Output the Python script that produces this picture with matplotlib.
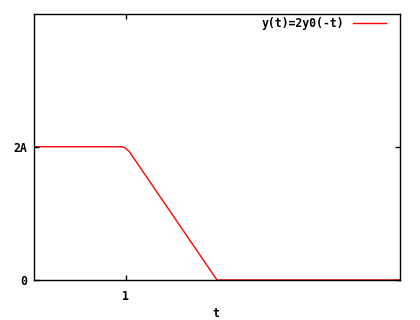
import matplotlib
matplotlib.use('Agg')
import matplotlib.pyplot as plt

# data (A = 1)
t = [0.0, 0.96, 1.0, 1.04, 2.0, 4.0]
y = [2.0, 2.0, 1.98, 1.93, 0.0, 0.0]
xticks = [1]
xticklabels = ['1']
yticks = [0, 2]
yticklabels = ['0', '2A']

plt.rcParams['font.family'] = 'DejaVu Sans Mono'
plt.rcParams['font.weight'] = 'bold'
plt.rcParams['axes.labelweight'] = 'bold'

fig = plt.figure(figsize=(4.2, 3.2), dpi=100)
ax = fig.add_axes([34/420, 1-280/320, 366/420, 266.5/320])
ax.plot(t, y, color='red', linewidth=1.0, label='y(t)=2y0(-t)', zorder=1)
ax.set_xlim(0, 4)
ax.set_ylim(0, 4)
ax.set_xticks(xticks)
ax.set_xticklabels(xticklabels)
ax.set_yticks(yticks)
ax.set_yticklabels(yticklabels)
ax.tick_params(direction='in', length=3.5, width=1, top=True, right=True,
               labelsize=8.3, pad=5)
ax.tick_params(axis='x', pad=7)
for s in ax.spines.values():
	s.set_linewidth(1)
	s.set_zorder(3)
ax.set_xlabel('t', fontsize=8.3)
ax.xaxis.set_label_coords(0.497, -0.124)
ax.xaxis.label.set_va('center')
ax.legend(loc='upper right', frameon=False, markerfirst=False, fontsize=8.3,
          handlelength=2.9, handletextpad=0.7, borderaxespad=0.3,
          bbox_to_anchor=(1 - 6/366, 1 + 5/266.5))
fig.savefig('out.png', dpi=100)
